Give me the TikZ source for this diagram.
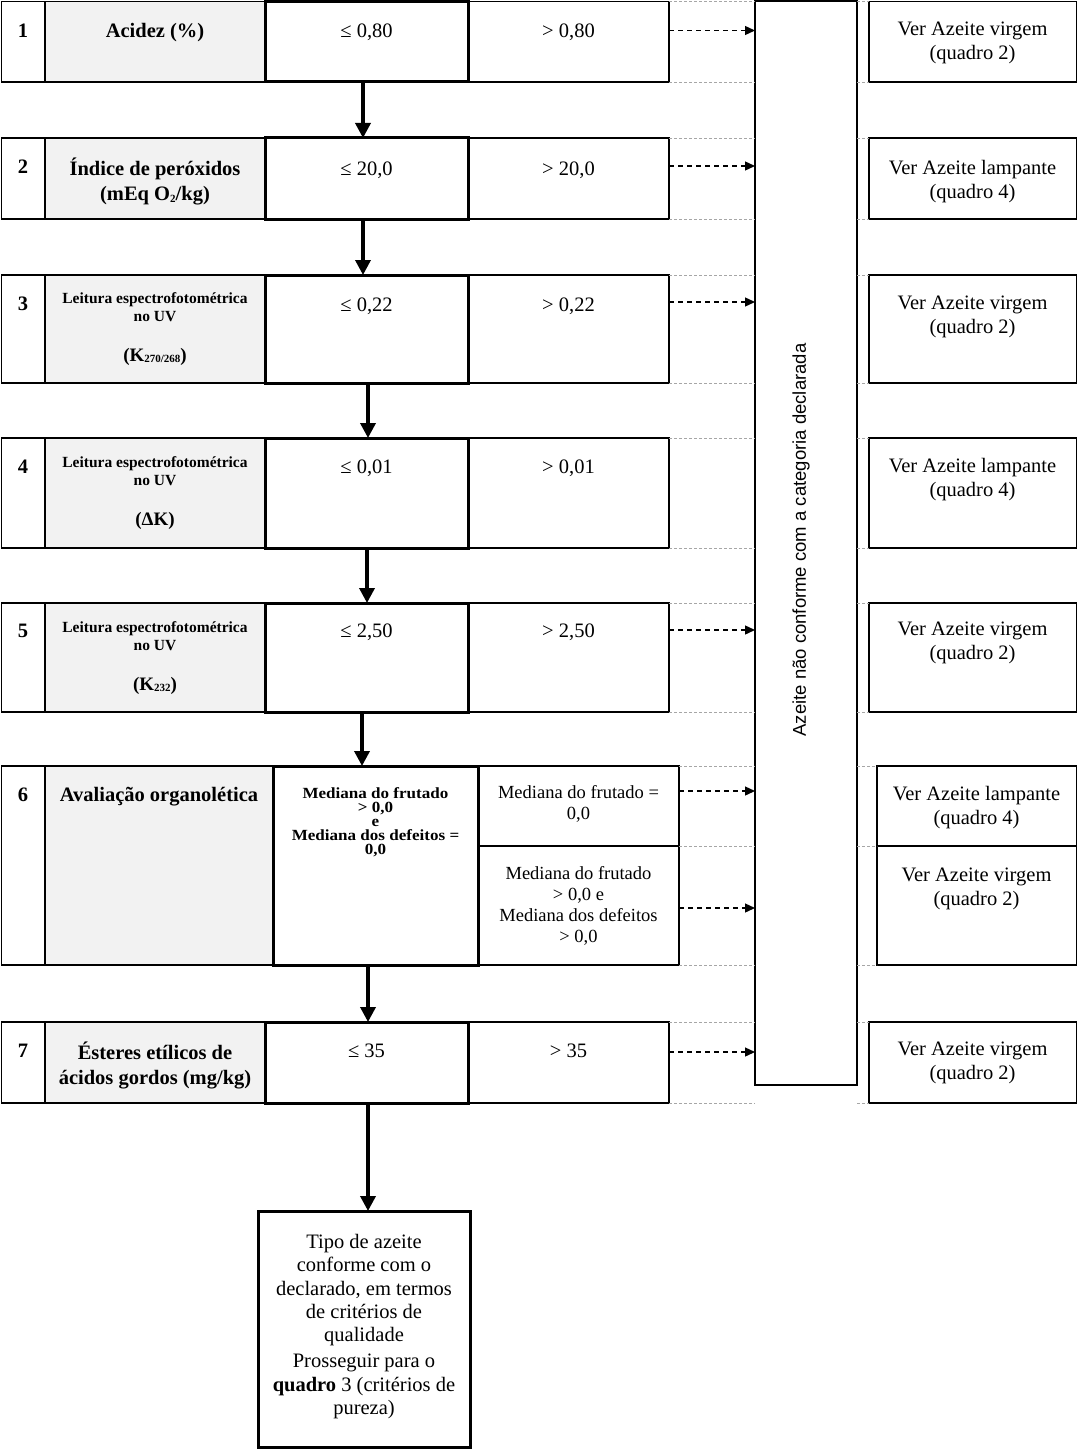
\documentclass[tikz,border=0pt]{standalone}
\usepackage{fontspec}
\setmainfont{Liberation Serif}
\setsansfont{Liberation Sans}
\usetikzlibrary{arrows.meta,calc}
\newcommand{\cbox}[6]{\node[#2, minimum width={(#5)-(#3)}, minimum height={(#6)-(#4)}] (#1) at (#3,#4) {};}
\newcommand{\subtxt}[1]{\raisebox{-1.5pt}{\fontsize{11}{11}\selectfont #1}}
\begin{document}
\begin{tikzpicture}[x=1pt,y=-1pt,
  thinbox/.style={draw=black, line width=1.3pt, inner sep=0pt, outer sep=0pt, anchor=north west},
  thickbox/.style={draw=black, line width=3pt, inner sep=0pt, outer sep=0pt, anchor=north west},
  labelcell/.style={thinbox, fill=black!5},
  tx/.style={anchor=north, align=center, inner sep=0pt, font=\fontsize{20.5}{24}\selectfont, execute at begin node=\rule{0pt}{15pt}},
  btx/.style={tx, font=\fontsize{20.5}{25}\selectfont\bfseries},
  stx/.style={anchor=north, align=center, inner sep=0pt, font=\fontsize{15.5}{18.5}\selectfont\bfseries, execute at begin node=\rule{0pt}{11pt}},
  mtx/.style={anchor=north, align=center, inner sep=0pt, font=\fontsize{15.5}{14}\selectfont\bfseries, execute at begin node=\rule{0pt}{11pt}},
  rtx/.style={anchor=north, align=center, inner sep=0pt, font=\fontsize{18.5}{21}\selectfont, execute at begin node=\rule{0pt}{13pt}},
  flow/.style={line width=3.5pt, -{Triangle[width=15pt,length=15pt]}},
  dasharrow/.style={line width=1.3pt, dash pattern=on 5pt off 4pt, -{Triangle[width=9pt,length=10pt]}},
  gridline/.style={draw=black!35, line width=0.9pt, dash pattern=on 3pt off 2pt}
]
\useasboundingbox (0,0) rectangle (1078,1450);

% ---- row cells: number, label, greater-than, result
\cbox{n1}{thinbox}{1.5}{1.5}{45}{82}
\cbox{l1}{labelcell}{45}{1.5}{265}{82}
\cbox{g1}{thinbox}{468}{1.5}{669}{82}
\cbox{r1}{thinbox}{869}{1.5}{1076.5}{82}

\cbox{n2}{thinbox}{1.5}{138}{45}{219}
\cbox{l2}{labelcell}{45}{138}{265}{219}
\cbox{g2}{thinbox}{468}{138}{669}{219}
\cbox{r2}{thinbox}{869}{138}{1076.5}{219}

\cbox{n3}{thinbox}{1.5}{275}{45}{383}
\cbox{l3}{labelcell}{45}{275}{265}{383}
\cbox{g3}{thinbox}{468}{275}{669}{383}
\cbox{r3}{thinbox}{869}{275}{1076.5}{383}

\cbox{n4}{thinbox}{1.5}{438}{45}{548}
\cbox{l4}{labelcell}{45}{438}{265}{548}
\cbox{g4}{thinbox}{468}{438}{669}{548}
\cbox{r4}{thinbox}{869}{438}{1076.5}{548}

\cbox{n5}{thinbox}{1.5}{603}{45}{712}
\cbox{l5}{labelcell}{45}{603}{265}{712}
\cbox{g5}{thinbox}{468}{603}{669}{712}
\cbox{r5}{thinbox}{869}{603}{1076.5}{712}

\cbox{n6}{thinbox}{1.5}{766}{45}{965}
\cbox{l6}{labelcell}{45}{766}{273}{965}
\cbox{g6a}{thinbox}{478}{766}{679}{846}
\cbox{g6b}{thinbox}{478}{846}{679}{965}
\cbox{r6a}{thinbox}{877}{766}{1076.5}{846}
\cbox{r6b}{thinbox}{877}{846}{1076.5}{965}

\cbox{n7}{thinbox}{1.5}{1022}{45}{1103}
\cbox{l7}{labelcell}{45}{1022}{265}{1103}
\cbox{g7}{thinbox}{468}{1022}{669}{1103}
\cbox{r7}{thinbox}{869}{1022}{1076.5}{1103}

% ---- thick "pass" boxes
\cbox{b1}{thickbox}{265}{1.5}{468}{82}
\cbox{b2}{thickbox}{265}{138}{468}{219}
\cbox{b3}{thickbox}{265}{275}{468}{383}
\cbox{b4}{thickbox}{265}{438}{468}{548}
\cbox{b5}{thickbox}{265}{603}{468}{712}
\cbox{b6}{thickbox}{273}{766}{478}{965}
\cbox{b7}{thickbox}{265}{1022}{468}{1103}
\cbox{fin}{thickbox}{258}{1211}{470}{1447}

% ---- tall non-conformity box
\cbox{nc}{thinbox}{755}{1}{857}{1085}
\node[rotate=90, inner sep=0pt, font=\sffamily\fontsize{18.5}{20}\selectfont] (nct) at (801,540) {Azeite não conforme com a categoria declarada};

% ---- grey dashed table borders
\foreach \g/\r in {g1/r1,g2/r2,g3/r3,g4/r4,g5/r5,g6a/r6a,g6b/r6b,g7/r7}{
  \draw[gridline] (\g.north east) -- (\g.north east -| nc.west);
  \draw[gridline] (\g.south east) -- (\g.south east -| nc.west);
  \draw[gridline] (nc.east |- \r.north west) -- (\r.north west);
  \draw[gridline] (nc.east |- \r.south west) -- (\r.south west);
}

% ---- numbers
\node[btx] (t1n) at (23,22) {1};
\node[btx] (t2n) at (23,158) {2};
\node[btx] (t3n) at (23,295) {3};
\node[btx] (t4n) at (23,458) {4};
\node[btx] (t5n) at (23,622) {5};
\node[btx] (t6n) at (23,786) {6};
\node[btx] (t7n) at (23,1042) {7};

% ---- labels
\node[btx] (t1l) at (155,22) {Acidez (\%)};
\node[btx] (t2l) at (155,158) {Índice de peróxidos\\(mEq O\subtxt{2}/kg)};
\node[stx] (t3l) at (155,292) {Leitura espectrofotométrica\\no UV};
\node[btx, font=\fontsize{19}{22}\selectfont\bfseries] (t3k) at (155,346) {(K\subtxt{270/268})};
\node[stx] (t4l) at (155,456) {Leitura espectrofotométrica\\no UV};
\node[btx, font=\fontsize{19}{22}\selectfont\bfseries] (t4k) at (155,510) {(ΔK)};
\node[stx] (t5l) at (155,621) {Leitura espectrofotométrica\\no UV};
\node[btx, font=\fontsize{19}{22}\selectfont\bfseries] (t5k) at (155,675) {(K\subtxt{232})};
\node[btx] (t6l) at (159,786) {Avaliação organolética};
\node[btx] (t7l) at (155,1042) {Ésteres etílicos de\\ácidos gordos (mg/kg)};

% ---- pass values
\node[tx] (t1v) at (366.5,22) {≤ 0,80};
\node[tx] (t2v) at (366.5,160) {≤ 20,0};
\node[tx] (t3v) at (366.5,296) {≤ 0,22};
\node[tx] (t4v) at (366.5,458) {≤ 0,01};
\node[tx] (t5v) at (366.5,622) {≤ 2,50};
\node[mtx, xscale=1.1, transform shape] (t6v) at (375.5,787) {Mediana do frutado\\> 0,0\\e\\Mediana dos defeitos =\\0,0};
\node[tx] (t7v) at (366.5,1042) {≤ 35};

% ---- fail values
\node[tx] (t1g) at (568.5,22) {> 0,80};
\node[tx] (t2g) at (568.5,160) {> 20,0};
\node[tx] (t3g) at (568.5,296) {> 0,22};
\node[tx] (t4g) at (568.5,458) {> 0,01};
\node[tx] (t5g) at (568.5,622) {> 2,50};
\node[rtx] (t6ga) at (578.5,785) {Mediana do frutado =\\0,0};
\node[rtx] (t6gb) at (578.5,866) {Mediana do frutado\\> 0,0 e\\Mediana dos defeitos\\> 0,0};
\node[tx] (t7g) at (568.5,1042) {> 35};

% ---- results
\node[tx] (t1r) at (972.5,22) {Ver Azeite virgem\\(quadro 2)};
\node[tx] (t2r) at (972.5,160) {Ver Azeite lampante\\(quadro 4)};
\node[tx] (t3r) at (972.5,296) {Ver Azeite virgem\\(quadro 2)};
\node[tx] (t4r) at (972.5,458) {Ver Azeite lampante\\(quadro 4)};
\node[tx] (t5r) at (972.5,622) {Ver Azeite virgem\\(quadro 2)};
\node[tx] (t6ra) at (976.5,786) {Ver Azeite lampante\\(quadro 4)};
\node[tx] (t6rb) at (976.5,868) {Ver Azeite virgem\\(quadro 2)};
\node[tx] (t7r) at (972.5,1042) {Ver Azeite virgem\\(quadro 2)};

% ---- final box text
\node[tx, font=\fontsize{20.5}{23.3}\selectfont] (tfin) at (364,1234) {Tipo de azeite\\conforme com o\\declarado, em termos\\de critérios de\\qualidade\\[3pt]Prosseguir para o\\\textbf{quadro} 3 (critérios de\\pureza)};

% ---- main flow arrows
\draw[flow] ([xshift=-3.5pt]b1.south) -- ([xshift=-3.5pt]b2.north);
\draw[flow] ([xshift=-3.5pt]b2.south) -- ([xshift=-3.5pt]b3.north);
\draw[flow] ([xshift=1.5pt]b3.south) -- ([xshift=1.5pt]b4.north);
\draw[flow] ([xshift=0.5pt]b4.south) -- ([xshift=0.5pt]b5.north);
\coordinate (a56) at ([xshift=-4.5pt]b5.south);
\draw[flow] (a56) -- (a56 |- b6.north);
\coordinate (a67) at ([xshift=1.5pt]b7.north);
\draw[flow] (a67 |- b6.south) -- (a67);
\coordinate (a7f) at ([xshift=1.5pt]b7.south);
\draw[flow] (a7f) -- (a7f |- fin.north);

% ---- dashed arrows to the non-conformity box
\coordinate (s1) at ($(g1.north east)+(0,29)$);
\coordinate (s2) at ($(g2.north east)+(0,28)$);
\coordinate (s3) at ($(g3.north east)+(0,27)$);
\coordinate (s5) at ($(g5.north east)+(0,27)$);
\coordinate (s6a) at ($(g6a.north east)+(0,25)$);
\coordinate (s6b) at ($(g6b.north east)+(0,62)$);
\coordinate (s7) at ($(g7.north east)+(0,30)$);
\foreach \s in {s1,s2,s3,s5,s6a,s6b,s7}{
  \draw[dasharrow] (\s) -- (\s -| nc.west);
}
\end{tikzpicture}
\end{document}
